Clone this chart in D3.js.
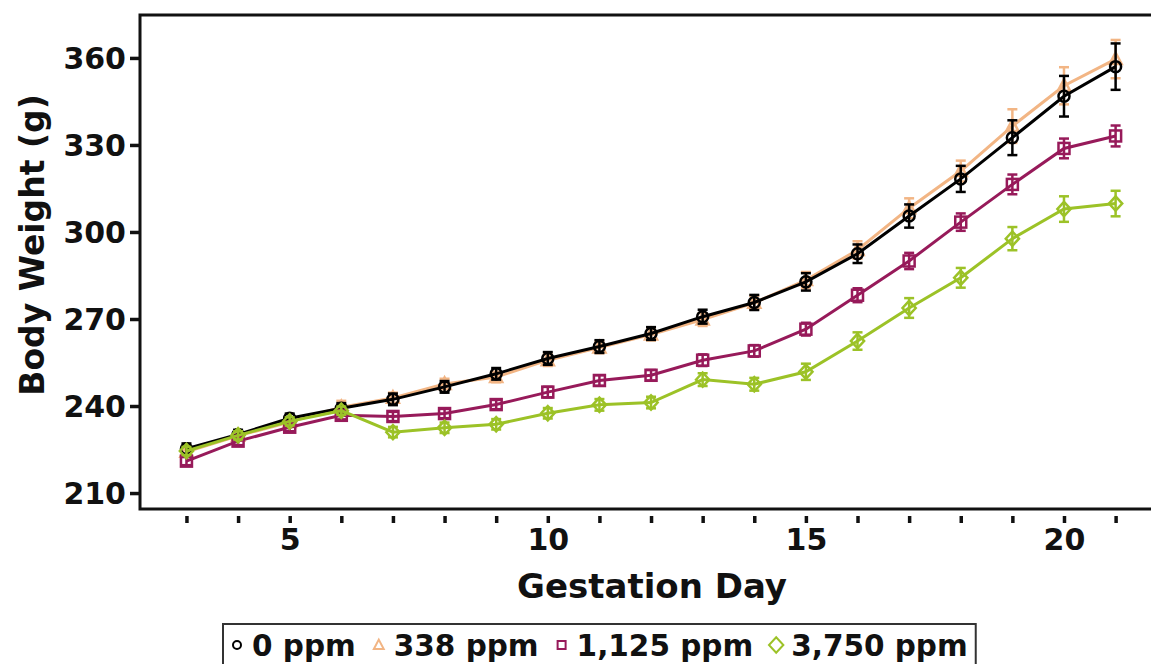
<!DOCTYPE html>
<html>
<head>
<meta charset="utf-8">
<script src="https://cdn.jsdelivr.net/npm/d3@7"></script>
<style>
  body { margin: 0; background: #fff; }
  svg text { font-family: "DejaVu Sans", sans-serif; font-weight: bold; fill: #111; }
</style>
</head>
<body>
<div id="chart"></div>
<script>
var W = 1151, H = 664;

// gestation days and group means / standard errors
var days = [3, 4, 5, 6, 7, 8, 9, 10, 11, 12, 13, 14, 15, 16, 17, 18, 19, 20, 21];
var xLabels = [5, 10, 15, 20];
var yTicks = [210, 240, 270, 300, 330, 360];

var mean0    = [225.3, 230.2, 235.8, 239.2, 242.3, 246.6, 251.1, 256.4, 260.5, 265.0, 270.8, 275.7, 282.8, 292.5, 305.5, 318.3, 332.5, 346.8, 357.0];
var mean338  = [224.2, 229.7, 234.5, 239.6, 242.8, 247.6, 250.0, 255.8, 260.2, 264.6, 269.8, 275.6, 283.4, 293.8, 308.2, 321.0, 336.5, 350.4, 359.6];
var mean1125 = [221.0, 227.9, 232.7, 236.8, 236.4, 237.4, 240.5, 244.8, 248.8, 250.6, 255.8, 259.0, 266.5, 278.2, 290.0, 303.4, 316.4, 328.8, 333.1];
var mean3750 = [224.5, 229.9, 234.7, 238.4, 231.0, 232.5, 233.7, 237.5, 240.4, 241.2, 249.1, 247.5, 251.8, 262.4, 273.8, 284.2, 297.7, 307.9, 309.8];

var se0    = [1.8, 1.6, 1.6, 1.8, 2.0, 2.0, 2.0, 2.2, 2.2, 2.2, 2.4, 2.6, 3.0, 3.2, 4.0, 4.5, 6.0, 7.0, 8.0];
var se338  = [1.6, 1.6, 1.6, 2.2, 1.8, 1.8, 1.8, 2.0, 2.0, 2.0, 2.2, 2.4, 2.8, 3.0, 3.4, 3.6, 5.8, 6.4, 6.6];
var se1125 = [1.4, 1.4, 1.4, 1.4, 1.6, 1.6, 1.6, 1.8, 1.8, 1.8, 2.0, 2.0, 2.2, 2.4, 2.8, 3.0, 3.4, 3.4, 3.6];
var se3750 = [1.4, 1.4, 1.4, 1.4, 1.8, 1.8, 1.8, 1.8, 2.0, 2.0, 2.2, 2.2, 2.8, 3.0, 3.4, 3.4, 4.0, 4.4, 4.4];

var groups = [
  { name: "0 ppm",     mean: mean0,    se: se0,    color: "#000000", shape: "circle" },
  { name: "338 ppm",   mean: mean338,  se: se338,  color: "#f2b584", shape: "triangle" },
  { name: "1,125 ppm", mean: mean1125, se: se1125, color: "#971a5a", shape: "square" },
  { name: "3,750 ppm", mean: mean3750, se: se3750, color: "#9cc227", shape: "diamond" }
];
// drawing order (green sits on top at the start)
var drawOrder = [1, 0, 2, 3];

var m = { left: 140, top: 15, bottom: 509, right: 1160 };

var svg = d3.select("#chart").append("svg")
    .attr("width", W).attr("height", H);

var x = d3.scaleLinear().domain([2.1, 21.86]).range([m.left, m.right]);
var y = d3.scaleLinear().domain([204.5, 374.8]).range([m.bottom, m.top]);

// marker shapes
function marker(sel, shape, size) {
  var s = size;
  if (shape === "circle") {
    sel.append("circle").attr("r", s * 0.5);
  } else if (shape === "square") {
    sel.append("rect").attr("x", -s / 2).attr("y", -s / 2).attr("width", s).attr("height", s);
  } else if (shape === "triangle") {
    sel.append("path").attr("d", "M0," + (-s * 0.6) + "L" + (s * 0.55) + "," + (s * 0.45) + "L" + (-s * 0.55) + "," + (s * 0.45) + "Z");
  } else {
    sel.append("path").attr("d", "M0," + (-s * 0.65) + "L" + (s * 0.6) + ",0L0," + (s * 0.65) + "L" + (-s * 0.6) + ",0Z");
  }
}

var line = d3.line().x(function (d) { return x(d.day); }).y(function (d) { return y(d.v); });

drawOrder.forEach(function (gi) {
  var g = groups[gi];
  var pts = days.map(function (d, i) { return { day: d, v: g.mean[i], se: g.se[i] }; });
  var layer = svg.append("g").attr("class", "series");

  layer.append("path").datum(pts)
      .attr("d", line)
      .attr("fill", "none")
      .attr("stroke", g.color)
      .attr("stroke-width", 3);

  // error bars
  var eb = layer.selectAll("g.eb").data(pts).enter().append("g").attr("class", "eb")
      .attr("stroke", g.color).attr("stroke-width", 2.5);
  eb.append("line")
      .attr("x1", function (d) { return x(d.day); }).attr("x2", function (d) { return x(d.day); })
      .attr("y1", function (d) { return y(d.v - d.se); }).attr("y2", function (d) { return y(d.v + d.se); });
  eb.append("line")
      .attr("x1", function (d) { return x(d.day) - 5; }).attr("x2", function (d) { return x(d.day) + 5; })
      .attr("y1", function (d) { return y(d.v + d.se); }).attr("y2", function (d) { return y(d.v + d.se); });
  eb.append("line")
      .attr("x1", function (d) { return x(d.day) - 5; }).attr("x2", function (d) { return x(d.day) + 5; })
      .attr("y1", function (d) { return y(d.v - d.se); }).attr("y2", function (d) { return y(d.v - d.se); });

  layer.selectAll("g.mk").data(pts).enter().append("g").attr("class", "mk")
      .attr("transform", function (d) { return "translate(" + x(d.day) + "," + y(d.v) + ")"; })
      .attr("fill", "none").attr("stroke", g.color).attr("stroke-width", 2.5)
      .each(function () { marker(d3.select(this), g.shape, 11); });
});

// frame (runs off the right edge like the original)
svg.append("rect")
    .attr("x", m.left).attr("y", m.top)
    .attr("width", m.right - m.left + 20).attr("height", m.bottom - m.top)
    .attr("fill", "none").attr("stroke", "#111").attr("stroke-width", 3);

// y axis
var yAxis = svg.append("g")
    .attr("transform", "translate(" + (m.left - 1) + ",0)")
    .call(d3.axisLeft(y).tickValues(yTicks).tickSize(9).tickPadding(4));
yAxis.select(".domain").remove();
yAxis.selectAll(".tick line").attr("stroke", "#111").attr("stroke-width", 3.5);
yAxis.selectAll(".tick text").style("font-size", "30px").attr("dy", "0.36em");

// x axis: a tick for every day, labels every 5
var xAxis = svg.append("g")
    .attr("transform", "translate(0," + (m.bottom + 7) + ")")
    .call(d3.axisBottom(x).tickValues(days).tickSize(7).tickPadding(6)
      .tickFormat(function (d) { return xLabels.indexOf(d) >= 0 ? d : ""; }));
xAxis.select(".domain").remove();
xAxis.selectAll(".tick line").attr("stroke", "#111").attr("stroke-width", 3.5);
xAxis.selectAll(".tick text").style("font-size", "30px");

svg.append("text")
    .attr("x", 652).attr("y", 598)
    .attr("text-anchor", "middle")
    .style("font-size", "34px")
    .text("Gestation Day");

svg.append("text")
    .attr("transform", "translate(44,245) rotate(-90)")
    .attr("text-anchor", "middle")
    .style("font-size", "33px")
    .text("Body Weight (g)");

// legend
var leg = svg.append("g").attr("class", "legend");
var legBox = leg.append("rect")
    .attr("y", 624).attr("height", 60)
    .attr("fill", "#fff").attr("stroke", "#333").attr("stroke-width", 2);
var lx = 237, ly = 645;
var legSize = { circle: 8, triangle: 9, square: 8, diamond: 12 };
var lastEnd = lx;
groups.forEach(function (g) {
  var mk = leg.append("g")
      .attr("transform", "translate(" + lx + "," + ly + ")")
      .attr("fill", "none").attr("stroke", g.color).attr("stroke-width", 2);
  marker(mk, g.shape, legSize[g.shape]);
  var t = leg.append("text")
      .attr("x", lx + 15).attr("y", ly).attr("dy", "0.36em")
      .style("font-size", "29.5px")
      .text(g.name);
  lastEnd = lx + 15 + t.node().getComputedTextLength();
  lx = lastEnd + 23;
});
legBox.attr("x", 223).attr("width", lastEnd + 8 - 223);
</script>
</body>
</html>
